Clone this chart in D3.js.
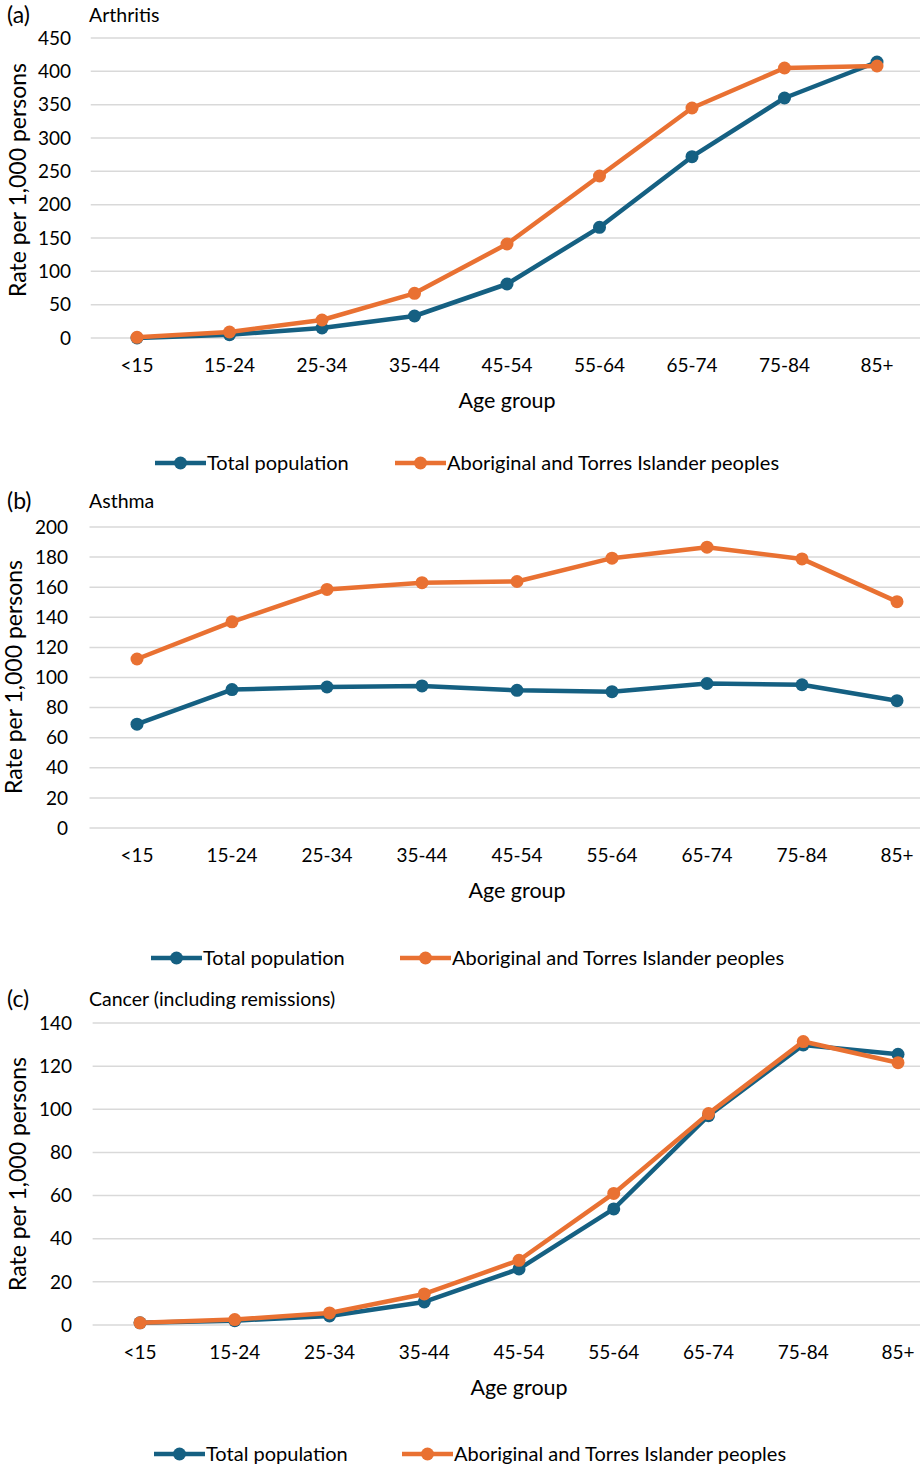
<!DOCTYPE html>
<html><head><meta charset="utf-8">
<script src="https://cdn.jsdelivr.net/npm/d3@7"></script>
<style>
html,body{margin:0;padding:0;background:#fff;}
svg text{font-family:Lato,"Open Sans",sans-serif;fill:#000;}
</style></head>
<body>
<svg id="chart" width="920" height="1468"></svg>
<script>
const ageGroups = ["<15","15-24","25-34","35-44","45-54","55-64","65-74","75-84","85+"];
const seriesNames = ["Total population","Aboriginal and Torres Islander peoples"];
const colors = ["#156082","#E97132"];

const arthritisTotal = [0, 5, 15, 33, 81, 166, 272, 360, 414];
const arthritisIndig = [1, 9, 27, 67, 141, 243, 345, 405, 408];
const arthritisTicks = [0,50,100,150,200,250,300,350,400,450];

const asthmaTotal = [69, 92, 93.7, 94.4, 91.5, 90.6, 96, 95.2, 84.6];
const asthmaIndig = [112.3, 137, 158.5, 163, 163.8, 179.3, 186.6, 178.8, 150.4];
const asthmaTicks = [0,20,40,60,80,100,120,140,160,180,200];

const cancerTotal = [1, 2, 4.2, 10.7, 26, 53.8, 97, 129.8, 125.5];
const cancerIndig = [1, 2.5, 5.6, 14.4, 30, 61, 98, 131.4, 121.6];
const cancerTicks = [0,20,40,60,80,100,120,140];

const svg = d3.select("#chart");

function panel(o){
  const g = svg.append("g");
  const x = d3.scalePoint().domain(ageGroups).range([o.x0, o.x1]);
  const y = d3.scaleLinear().domain([0, o.ticks[o.ticks.length-1]]).range([o.yBottom, o.yTop]);
  const gl = o.x0 - (o.x1-o.x0)/16;
  const gr = o.x1 + (o.x1-o.x0)/16;
  g.selectAll(".grid").data(o.ticks).join("line")
    .attr("x1", gl).attr("x2", gr)
    .attr("y1", d=>y(d)).attr("y2", d=>y(d))
    .attr("stroke","#d9d9d9").attr("stroke-width",1.5);
  g.selectAll(".yt").data(o.ticks).join("text")
    .attr("x", o.yLabelX).attr("y", d=>y(d)).attr("dy","0.35em")
    .attr("text-anchor","end").attr("font-size",19).text(d=>d);
  g.selectAll(".xt").data(ageGroups).join("text")
    .attr("x", d=>x(d)).attr("y", o.yBottom+27).attr("dy","0.35em")
    .attr("text-anchor","middle").attr("font-size",19).text(d=>d);
  g.append("text").attr("x", o.axisTitleX).attr("y", o.yBottom+62).attr("dy","0.35em")
    .attr("text-anchor","middle").attr("font-size",21.5).text("Age group");
  g.append("text").attr("transform",`translate(${o.yTitleX},${o.yTitleY}) rotate(-90)`)
    .attr("dy","0.35em").attr("text-anchor","middle").attr("font-size",23).text("Rate per 1,000 persons");
  g.append("text").attr("x",7).attr("y",o.titleY).attr("dy","0.35em").attr("font-size",23).text(o.letter);
  g.append("text").attr("x",89).attr("y",o.titleY).attr("dy","0.35em").attr("font-size",19.5).text(o.title);
  const line = d3.line().x((d,i)=>x(ageGroups[i])).y(d=>y(d));
  o.series.forEach((s,k)=>{
    g.append("path").datum(s).attr("d",line).attr("fill","none")
      .attr("stroke",colors[k]).attr("stroke-width",4.5).attr("stroke-linejoin","round");
    g.selectAll(null).data(s).join("circle")
      .attr("cx",(d,i)=>x(ageGroups[i])).attr("cy",d=>y(d)).attr("r",6.5).attr("fill",colors[k]);
  });
  o.legend.forEach((L,k)=>{
    g.append("line").attr("x1",L).attr("x2",L+51).attr("y1",o.legendY).attr("y2",o.legendY)
      .attr("stroke",colors[k]).attr("stroke-width",4.5);
    g.append("circle").attr("cx",L+25.5).attr("cy",o.legendY).attr("r",6.5).attr("fill",colors[k]);
    g.append("text").attr("x",L+52).attr("y",o.legendY).attr("dy","0.35em").attr("font-size",20).text(seriesNames[k]);
  });
}

panel({x0:137, x1:877, yTop:38, yBottom:338, ticks:arthritisTicks, yLabelX:71,
  series:[arthritisTotal, arthritisIndig], title:"Arthritis", letter:"(a)", titleY:15,
  yTitleX:18, yTitleY:180, axisTitleX:507, legendY:463, legend:[155,395]});
panel({x0:137, x1:897, yTop:527, yBottom:828, ticks:asthmaTicks, yLabelX:68,
  series:[asthmaTotal, asthmaIndig], title:"Asthma", letter:"(b)", titleY:501,
  yTitleX:14, yTitleY:677, axisTitleX:517, legendY:958, legend:[151,400]});
panel({x0:140, x1:898, yTop:1023, yBottom:1325, ticks:cancerTicks, yLabelX:72,
  series:[cancerTotal, cancerIndig], title:"Cancer (including remissions)", letter:"(c)", titleY:999,
  yTitleX:18, yTitleY:1174, axisTitleX:519, legendY:1454, legend:[154,402]});
</script>
</body></html>
